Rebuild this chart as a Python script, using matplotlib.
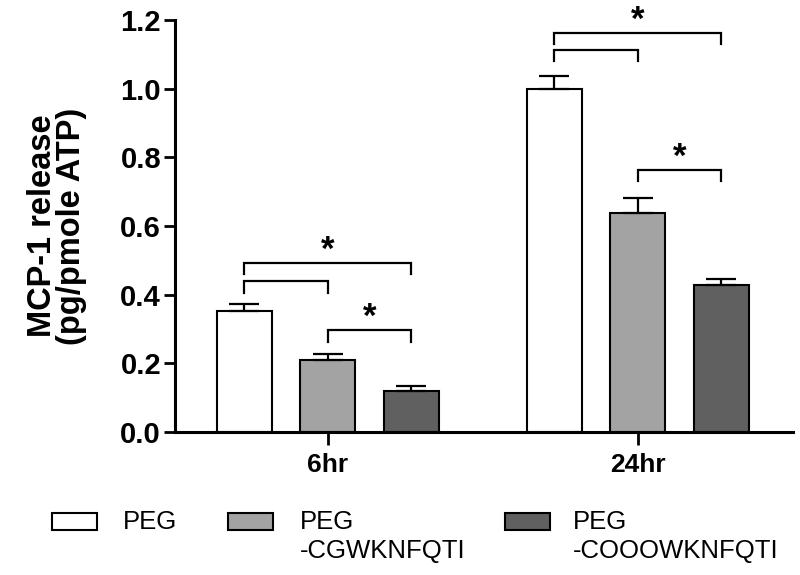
import matplotlib
matplotlib.use("Agg")
import matplotlib.pyplot as plt
from matplotlib.patches import Rectangle
import numpy as np

plt.rcParams['font.family'] = ['Liberation Sans', 'DejaVu Sans']

groups = ["6hr", "24hr"]
series = ["PEG", "PEG\n-CGWKNFQTI", "PEG\n-COOOWKNFQTI"]
means = {
    "PEG": [0.353, 1.000],
    "PEG\n-CGWKNFQTI": [0.210, 0.637],
    "PEG\n-COOOWKNFQTI": [0.120, 0.427],
}
errs = {
    "PEG": [0.020, 0.038],
    "PEG\n-CGWKNFQTI": [0.017, 0.045],
    "PEG\n-COOOWKNFQTI": [0.014, 0.019],
}
colors = ["#ffffff", "#a3a3a3", "#606060"]
yticks = [0.0, 0.2, 0.4, 0.6, 0.8, 1.0, 1.2]
ytick_labels = ["0.0", "0.2", "0.4", "0.6", "0.8", "1.0", "1.2"]
# significance brackets: (group index, series i, series j, bracket height)
brackets = [
    (0, 0, 2, 0.493),
    (0, 0, 1, 0.440),
    (0, 1, 2, 0.297),
    (1, 0, 2, 1.163),
    (1, 0, 1, 1.114),
    (1, 1, 2, 0.764),
]
star_flags = [True, False, True, True, False, True]

fig = plt.figure(figsize=(8, 5.75), dpi=100)
ax = fig.add_axes([175/800, 1-432/575, (793-175)/800, (432-20)/575])

group_pos = np.array([0.0, 3.71])
offsets = np.array([-1.0, 0.0, 1.0])
width = 0.66

for k, s in enumerate(series):
    x = group_pos + offsets[k]
    ax.bar(x, means[s], width=width, color=colors[k], edgecolor="black",
           linewidth=1.5, zorder=2)
    ax.errorbar(x, means[s], yerr=[np.zeros(2), errs[s]], fmt="none",
                ecolor="black", elinewidth=1.6, capsize=10.5, capthick=1.6, zorder=3)

tick_len = 0.034
for (g, i, j, h), star in zip(brackets, star_flags):
    x1 = group_pos[g] + offsets[i]
    x2 = group_pos[g] + offsets[j]
    ax.plot([x1, x1, x2, x2], [h - tick_len, h, h, h - tick_len], color="black",
            lw=1.6, clip_on=False, solid_joinstyle="miter")
    if star:
        ax.text((x1 + x2) / 2, h - 0.012, "*", ha="center", va="bottom",
                fontsize=25, fontweight="bold", clip_on=False)

ax.set_xlim(-1.83, 5.57)
ax.set_ylim(0, 1.2)
ax.set_yticks(yticks)
ax.set_yticklabels(ytick_labels, fontsize=21, fontweight="bold")
ax.set_xticks(group_pos)
ax.set_xticklabels(groups, fontsize=19, fontweight="bold")
ax.tick_params(axis="y", length=8, width=2, pad=2)
ax.tick_params(axis="x", length=9, width=2, pad=6)
for side in ["top", "right"]:
    ax.spines[side].set_visible(False)
for side in ["left", "bottom"]:
    ax.spines[side].set_linewidth(2.2)
ax.set_ylabel("MCP-1 release\n(pg/pmole ATP)", fontsize=23.5, fontweight="bold",
              linespacing=0.9, labelpad=24)

# legend drawn manually
patch_x = [52, 228, 505]
text_x = [123, 300, 573]
for k, s in enumerate(series):
    fig.patches.append(Rectangle((patch_x[k]/800, 1-530/575), 45/800, 17/575,
                                 transform=fig.transFigure, facecolor=colors[k],
                                 edgecolor="black", linewidth=1.5))
    fig.text(text_x[k]/800, 1-510/575, s, fontsize=18.5, ha="left", va="top",
             linespacing=1.25)

fig.savefig("out.png", dpi=100)
